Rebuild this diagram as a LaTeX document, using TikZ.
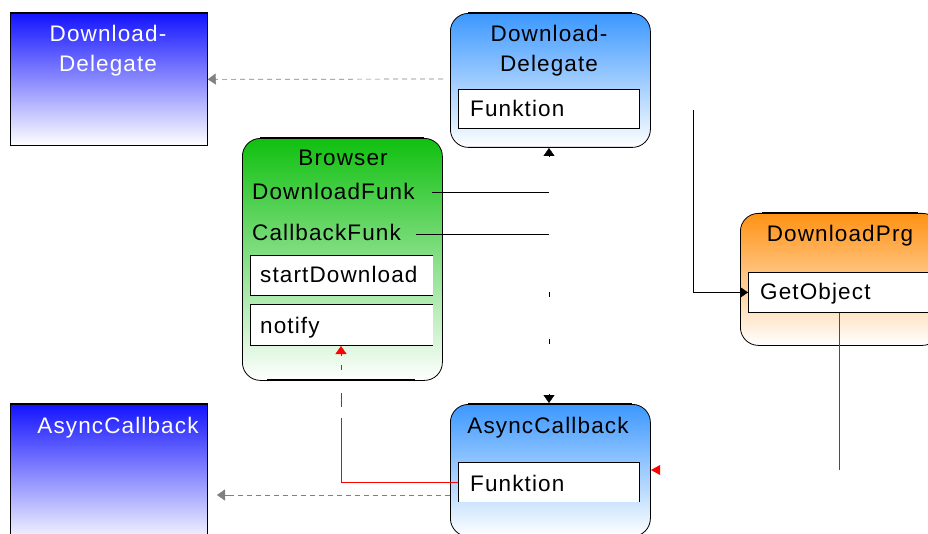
\documentclass[tikz,border=0pt]{standalone}
\usepackage{fontspec}
\setmainfont[LetterSpace=5]{Liberation Sans}
\usetikzlibrary{arrows.meta}
\definecolor{bluedark}{RGB}{20,20,255}
\definecolor{bluelight}{RGB}{60,152,255}
\definecolor{greenc}{RGB}{16,192,16}
\definecolor{orangec}{RGB}{255,146,20}
\definecolor{grayc}{RGB}{128,128,128}
\begin{document}
\begin{tikzpicture}[x=1pt,y=-1pt,
  font=\fontsize{22.5}{28}\selectfont,
  boxsq/.style={draw=black, line width=0.8pt, minimum width=197pt, anchor=north west, inner sep=0pt},
  boxrd/.style={draw=black, line width=0.8pt, rounded corners=18pt, minimum width=200pt, anchor=north west, inner sep=0pt},
  inbox/.style={fill=white, draw=none, anchor=north west, inner sep=0pt},
  edge3/.style={black, line width=0.8pt},
  thickedge/.style={black, line width=1.8pt},
  lbl/.style={anchor=base, inner sep=0pt},
  lblw/.style={anchor=base west, inner sep=0pt},
  conn/.style={black, line width=0.7pt},
  tip/.style={-{Triangle[length=8pt,width=11pt]}},
  gdash/.style={grayc, line width=0.7pt, dash pattern=on 5pt off 4pt},
  redl/.style={red, line width=0.7pt}]
\useasboundingbox (0,0) rectangle (928,534);
\clip (0,0) rectangle (928,534);
\fill[white] (0,0) rectangle (928,534);

% left Download-Delegate
\node[boxsq, minimum height=132pt, top color=bluedark, bottom color=white] (ddl) at (10,13) {};
\draw[thickedge] (ddl.north west) -- (ddl.north east);
\node[lbl, text=white] (ddlt1) at (108,42) {Download-};
\node[lbl, text=white] (ddlt2) at (108,72) {Delegate};

% right Download-Delegate
\node[boxrd, minimum height=134pt, top color=bluelight, bottom color=white] (ddr) at (450,13) {};
\draw[thickedge] (468,13) -- (632,13);
\node[lbl] (ddrt1) at (549,42) {Download-};
\node[lbl] (ddrt2) at (549,72) {Delegate};
\node[inbox, minimum width=181pt, minimum height=39pt, draw=black, line width=0.8pt] (ddrf) at (458,89) {};
\node[lblw] (ddrft) at (470,117) {Funktion};

% Browser
\node[boxrd, minimum height=242pt, top color=greenc, bottom color=white] (br) at (242,138) {};
\draw[thickedge] (260,138) -- (424,138);
\draw[thickedge] (267,380) -- (415,380);
\node[lbl] (brt) at (343,166) {Browser};
\node[lblw] (dfk) at (252,200) {DownloadFunk};
\node[lblw] (cbk) at (252,241) {CallbackFunk};
\node[inbox, minimum width=183pt, minimum height=40pt] (sd) at (250,255) {};
\draw[edge3] (sd.north east) -- (sd.north west) -- (sd.south west) -- (sd.south east);
\node[lblw] (sdt) at (260,283) {startDownload};
\node[inbox, minimum width=183pt, minimum height=41pt] (no) at (250,304) {};
\draw[edge3] (no.north east) -- (no.north west) -- (no.south west) -- (no.south east);
\node[lblw] (not) at (260,333) {notify};

% DownloadPrg
\node[boxrd, minimum height=132pt, top color=orangec, bottom color=white] (dp) at (740,213) {};
\draw[thickedge] (762,213) -- (918,213);
\node[lbl] (dpt) at (840,242) {DownloadPrg};
\node[inbox, minimum width=200pt, minimum height=40pt, draw=black, line width=0.8pt] (go) at (748,272) {};
\node[lblw] (got) at (760,300) {GetObject};

% left AsyncCallback
\node[boxsq, minimum height=140pt, top color=bluedark, bottom color=white] (acl) at (10,404) {};
\draw[thickedge] (acl.north west) -- (acl.north east);
\node[lbl, text=white] (aclt) at (118,433) {AsyncCallback};

% right AsyncCallback
\node[boxrd, minimum height=132pt, top color=bluelight, bottom color=white] (acr) at (450,404) {};
\draw[thickedge] (468,404) -- (632,404);
\node[lbl] (acrt) at (548,433) {AsyncCallback};
\node[inbox, minimum width=181pt, minimum height=40pt] (acrf) at (458,462) {};
\draw[edge3] (acrf.south west) -- (acrf.north west) -- (acrf.north east) -- (acrf.south east);
\node[lblw] (acrft) at (470,491) {Funktion};

% connectors
\coordinate (g1) at (443,79);
\draw[gdash] (g1) -- (ddl.east);
\draw[grayc, tip] (217,79) -- (ddl.east);
\coordinate (g2s) at (450,495);
\coordinate (g2e) at (217,495);
\draw[gdash] (g2s) -- (g2e);
\draw[grayc, tip] (229,495) -- (g2e);

\coordinate (df1) at (432,192);
\coordinate (df2) at (549,192);
\draw[conn] (df1) -- (df2);
\coordinate (cb1) at (416,234);
\coordinate (cb2) at (549,234);
\draw[conn] (cb1) -- (cb2);
\coordinate (up1) at (549,157);
\coordinate (up2) at (549,148);
\draw[black, tip] (up1) -- (up2);
\coordinate (dn1) at (549,394);
\coordinate (dn2) at (549,403);
\draw[black, tip] (dn1) -- (dn2);
\draw[conn] (549,292) -- (549,297) (549,339) -- (549,344);

\coordinate (bk) at (693,110);
\draw[conn, tip] (bk) |- (go.west);

\coordinate (r1) at (341,418);
\draw[redl] (acrf.west) -| (r1);
\draw[redl] (341,393) -- (341,407) (341,365) -- (341,370);
\coordinate (r2) at (341,356);
\coordinate (r2e) at (341,346);
\draw[red, tip] (r2) -- (r2e);

\coordinate (r3) at (839,470);
\draw[redl, line width=0.5pt] (go.south -| r3) -- (r3);
\fill[red] (651,470) -- (660,465) -- (660,475) -- cycle;
\end{tikzpicture}
\end{document}
